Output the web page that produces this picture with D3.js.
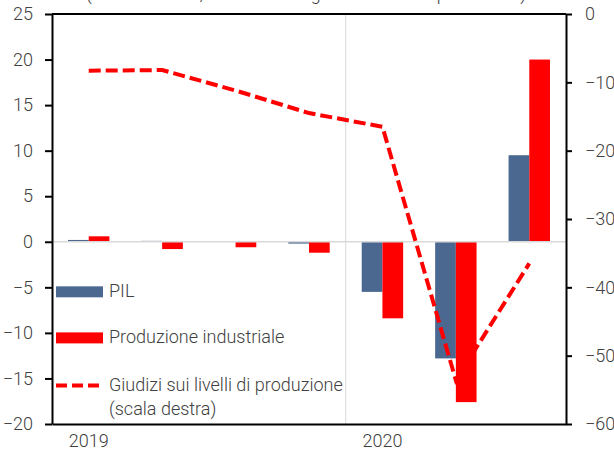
<!DOCTYPE html>
<html>
<head>
<meta charset="utf-8">
<style>
  body { margin: 0; background: #fff; }
  svg text { font-family: Roboto, "Liberation Sans", sans-serif; font-weight: 300; fill: #404040; }
</style>
</head>
<body>
<svg width="614" height="456"></svg>
<script src="https://d3js.org/d3.v7.min.js"></script>
<script>
    // trimestri 2019-2020
    var quarters = ["2019T1", "2019T2", "2019T3", "2019T4", "2020T1", "2020T2", "2020T3"];
    var yearLabels = {"2019T1": "2019", "2020T1": "2020"};
    var pil = [0.2, 0.1, 0.0, -0.2, -5.5, -12.8, 9.5];
    var produzione = [0.6, -0.8, -0.6, -1.2, -8.4, -17.6, 20.0];
    var giudizi = [-8.3, -8.2, -11.2, -14.5, -16.5, -53.6, -36.5];
    var leftTicks = [-20, -15, -10, -5, 0, 5, 10, 15, 20, 25];
    var rightTicks = [-60, -50, -40, -30, -20, -10, 0];

    var svg = d3.select("svg"),
        margin = {top: 14, right: 48, bottom: 32, left: 52},
        width = +svg.attr("width") - margin.left - margin.right,
        height = +svg.attr("height") - margin.top - margin.bottom;

    var blue = "#4a6890", red = "#ff0000";
    var fs = "18px";

    // sottotitolo tagliato in alto, come nell'originale
    svg.append("text")
        .attr("x", 86)
        .attr("y", 0)
        .attr("textLength", 440)
        .style("font-size", fs)
        .text("(dati trimestrali; variazioni congiunturali e saldi percentuali)");

    var g = svg.append("g").attr("transform", "translate(" + margin.left + "," + margin.top + ")");

    var x = d3.scaleBand().domain(quarters).range([0, width]);
    var y = d3.scaleLinear().domain([-20, 25]).range([height, 0]);
    var y2 = d3.scaleLinear().domain([-60, 0]).range([height, 0]);

    var barW = x.bandwidth() * 0.282;

    // griglia verticale tra gli anni
    g.append("line")
        .attr("x1", x("2020T1")).attr("x2", x("2020T1"))
        .attr("y1", 0).attr("y2", height)
        .attr("stroke", "#d9d9d9").attr("stroke-width", 1);

    g.selectAll("rect.pil")
        .data(pil)
        .enter().append("rect")
        .attr("class", "pil")
        .attr("x", function (d, i) { return x(quarters[i]) + x.bandwidth() / 2 - barW; })
        .attr("y", function (d) { return y(Math.max(0, d)); })
        .attr("width", barW)
        .attr("height", function (d) { return Math.abs(y(d) - y(0)); })
        .attr("fill", blue);

    g.selectAll("rect.prod")
        .data(produzione)
        .enter().append("rect")
        .attr("class", "prod")
        .attr("x", function (d, i) { return x(quarters[i]) + x.bandwidth() / 2; })
        .attr("y", function (d) { return y(Math.max(0, d)); })
        .attr("width", barW)
        .attr("height", function (d) { return Math.abs(y(d) - y(0)); })
        .attr("fill", red);

    // linea dello zero
    g.append("line")
        .attr("x1", 0).attr("x2", width)
        .attr("y1", y(0)).attr("y2", y(0))
        .attr("stroke", "#d9d9d9").attr("stroke-width", 1.5);

    var line = d3.line()
        .x(function (d, i) { return x(quarters[i]) + x.bandwidth() / 2; })
        .y(function (d) { return y2(d); });

    g.append("path")
        .datum(giudizi)
        .attr("fill", "none")
        .attr("stroke", red)
        .attr("stroke-width", 4)
        .attr("stroke-dasharray", "12,5")
        .attr("d", line);

    // assi
    var leftAxis = g.append("g")
        .call(d3.axisLeft(y).tickValues(leftTicks).tickSize(7).tickSizeOuter(0).tickPadding(12));
    var rightAxis = g.append("g")
        .attr("transform", "translate(" + width + ",0)")
        .call(d3.axisRight(y2).tickValues(rightTicks).tickSize(6).tickSizeOuter(0).tickPadding(13));

    [leftAxis, rightAxis].forEach(function (a) {
        a.selectAll("line, path").attr("stroke", "#000").attr("stroke-width", 2);
        a.selectAll("text").style("font-size", fs).attr("fill", "#404040");
    });

    g.append("line")
        .attr("x1", 0).attr("x2", width).attr("y1", 0).attr("y2", 0)
        .attr("stroke", "#000").attr("stroke-width", 2);

    var bottomAxis = g.append("g")
        .attr("transform", "translate(0," + height + ")")
        .call(d3.axisBottom(x).tickSize(0).tickPadding(10)
            .tickFormat(function (d) { return yearLabels[d] || ""; }));
    bottomAxis.select(".domain").attr("stroke", "#000").attr("stroke-width", 2);
    bottomAxis.selectAll("text").style("font-size", fs).attr("fill", "#404040");

    // legenda
    var legend = g.append("g").attr("transform", "translate(4,0)");
    legend.append("rect").attr("x", 0).attr("y", y(-5) - 1).attr("width", 47).attr("height", 11).attr("fill", blue);
    legend.append("text").attr("x", 53).attr("y", y(-5) + 10).style("font-size", fs).text("PIL");

    legend.append("rect").attr("x", 0).attr("y", y(-10) - 0.5).attr("width", 47).attr("height", 11).attr("fill", red);
    legend.append("text").attr("x", 53).attr("y", y(-10) + 10).style("font-size", fs).text("Produzione industriale");

    legend.append("line")
        .attr("x1", 0).attr("x2", 44).attr("y1", y(-15) + 7).attr("y2", y(-15) + 7)
        .attr("stroke", red).attr("stroke-width", 4).attr("stroke-dasharray", "11,5");
    legend.append("text").attr("x", 53).attr("y", y(-15) + 13).style("font-size", fs).text("Giudizi sui livelli di produzione");
    legend.append("text").attr("x", 53).attr("y", y(-15) + 37).style("font-size", fs).text("(scala destra)");
</script>
</body>
</html>
